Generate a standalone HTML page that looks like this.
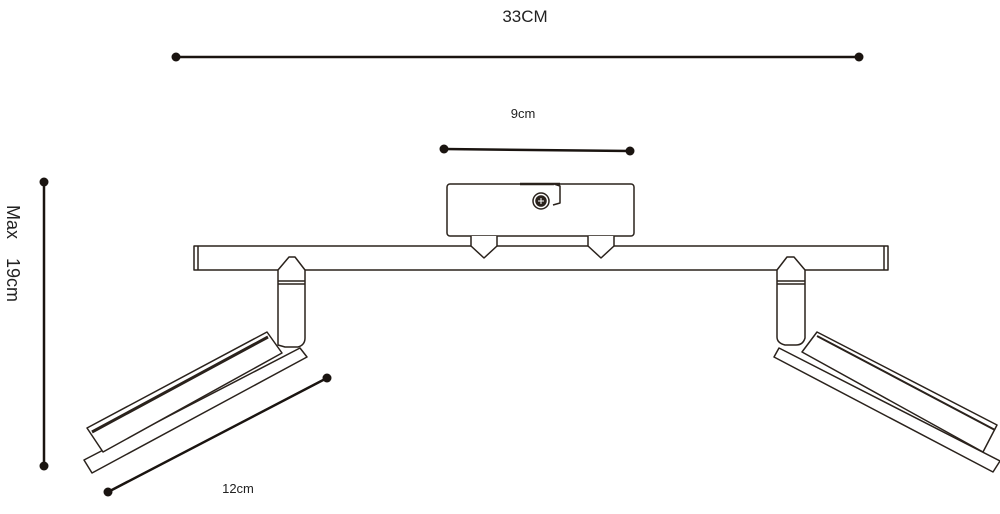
<!DOCTYPE html>
<html><head><style>
body{margin:0;background:#fff;}
svg{display:block;}
text{font-family:"Liberation Sans",sans-serif;fill:#222;}
</style></head><body>
<svg width="1000" height="514" viewBox="0 0 1000 514" xmlns="http://www.w3.org/2000/svg">
<g stroke="#1a1410" fill="none" stroke-width="1.6">
<line x1="176" y1="57" x2="859" y2="57" stroke-width="2.5"/>
<line x1="444" y1="149" x2="630" y2="151" stroke-width="2.5"/>
<line x1="44" y1="182" x2="44" y2="466" stroke-width="2.5"/>
<line x1="108" y1="492" x2="327" y2="378" stroke-width="2.5"/>
</g>
<g fill="#1a1410">
<circle cx="176" cy="57" r="4.5"/><circle cx="859" cy="57" r="4.5"/>
<circle cx="444" cy="149" r="4.5"/><circle cx="630" cy="151" r="4.5"/>
<circle cx="44" cy="182" r="4.5"/><circle cx="44" cy="466" r="4.5"/>
<circle cx="108" cy="492" r="4.5"/><circle cx="327" cy="378" r="4.5"/>
</g>
<text x="525" y="22" font-size="17" text-anchor="middle">33CM</text>
<text x="523" y="118" font-size="13" text-anchor="middle">9cm</text>
<text x="238" y="493" font-size="13" text-anchor="middle">12cm</text>
<text transform="translate(7,205) rotate(90)" font-size="18">Max</text>
<text transform="translate(7,258) rotate(90)" font-size="18">19cm</text>

<g stroke="#2a221c" fill="#fff" stroke-width="1.5" stroke-linejoin="round">
<rect x="447" y="184" width="187" height="52" rx="3"/>
<line x1="520" y1="184" x2="560" y2="184" stroke-width="2.5"/>
<path d="M554 184 L560 186 L560 203 L553 205"/>
<circle cx="541" cy="201" r="8"/>
<circle cx="541" cy="201" r="5" fill="#2a221c"/>
<line x1="538" y1="201" x2="544" y2="201" stroke="#fff" stroke-width="1"/>
<line x1="541" y1="198" x2="541" y2="204" stroke="#fff" stroke-width="1"/>
<rect x="194" y="246" width="694" height="24"/>
<line x1="198" y1="246" x2="198" y2="270"/>
<line x1="884" y1="246" x2="884" y2="270"/>
<path d="M471 236 L471 246 L484 258 L497 246 L497 236"/>
<path d="M588 236 L588 246 L601 258 L614 246 L614 236"/>
<path d="M278 345 L278 270 L289 257 L295 257 L305 270 L305 338 Q305 345 298 347 L285 347 Z"/>
<line x1="278" y1="281" x2="305" y2="281"/><line x1="278" y1="284" x2="305" y2="284"/>
<path d="M777 337 L777 270 L787 257 L794 257 L805 270 L805 338 Q803 345 796 345 L785 345 Q777 343 777 337 Z"/>
<line x1="777" y1="281" x2="805" y2="281"/><line x1="777" y1="284" x2="805" y2="284"/>
<path d="M84 460 L300 348 L307 357 L92 473 Z"/>
<path d="M87 428 L267 332 L282 353 L103 452 Z"/>
<path d="M92 432 L268 337" stroke-width="3"/>
<path d="M779 348 L774 357 L993 472 L1000 461 Z"/>
<path d="M817 332 L802 352 L983 452 L997 425 Z"/>
<path d="M817 336 L995 430" stroke-width="2"/>
</g>
</svg>
</body></html>
